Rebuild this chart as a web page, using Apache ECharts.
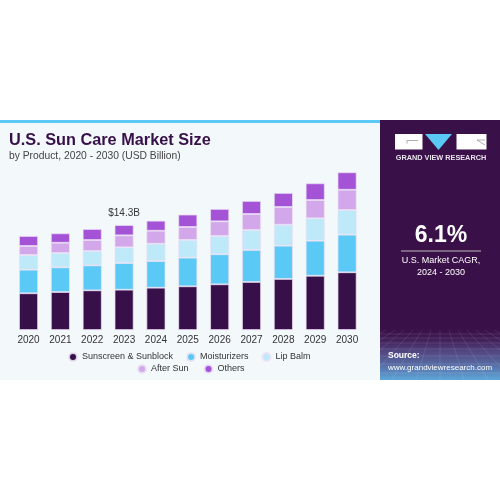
<!DOCTYPE html>
<html><head><meta charset="utf-8">
<script src="https://cdn.jsdelivr.net/npm/echarts@6/dist/echarts.min.js"></script>
<style>html,body{margin:0;padding:0;background:#fff}#c{width:500px;height:500px}</style>
</head><body><div id="c"></div>
<script>
var years = ['2020','2021','2022','2023','2024','2025','2026','2027','2028','2029','2030'];
var sunscreen = [5.00,5.17,5.40,5.49,5.76,5.95,6.22,6.54,6.95,7.39,7.86];
var moisturizers = [3.21,3.36,3.40,3.63,3.63,3.90,4.09,4.36,4.53,4.77,5.12];
var lipBalm = [2.00,1.95,1.95,2.14,2.36,2.41,2.49,2.72,2.86,3.05,3.36];
var afterSun = [1.23,1.40,1.50,1.63,1.77,1.77,2.00,2.18,2.41,2.49,2.76];
var others = [1.36,1.28,1.50,1.40,1.36,1.68,1.68,1.77,1.91,2.27,2.37];
var seriesNames = ['Sunscreen & Sunblock','Moisturizers','Lip Balm','After Sun','Others'];
var colors = ['#37104a','#5bc9f5','#bde9f9','#d3a8ea','#a452d6'];
var labelIndex = 3, labelText = '$14.3B';

var font = '"Liberation Sans", Arial, sans-serif';
var chart = echarts.init(document.getElementById('c'));
var data = [sunscreen, moisturizers, lipBalm, afterSun, others];
var series = data.map(function(arr, i){
  return {
    name: seriesNames[i], type: 'bar', stack: 'total', barWidth: 19,
    itemStyle: {color: colors[i], borderColor: 'rgba(235,225,245,0.9)', borderWidth: 0.8},
    data: arr.map(function(v, j){
      if (i === 4 && j === labelIndex) {
        return {value: v, label: {show: true, position: 'top', distance: 7, formatter: labelText,
          color: '#333', fontSize: 10, fontFamily: font}};
      }
      return v;
    })
  };
});
var legendText = {color: '#333', fontSize: 9, fontFamily: font};

// decorative perspective grid in the lower right panel
var deco = [];
[334, 338, 343, 349, 356, 364, 373].forEach(function(y){
  deco.push({type: 'line', z: -7, shape: {x1: 380, y1: y, x2: 500, y2: y}, style: {stroke: 'rgba(255,255,255,0.13)', lineWidth: 0.8}});
});
for (var k = -6; k <= 6; k++) {
  deco.push({type: 'line', z: -7, shape: {x1: 440 + k * 9, y1: 330, x2: 440 + k * 24, y2: 380}, style: {stroke: 'rgba(255,255,255,0.12)', lineWidth: 0.8}});
}

chart.setOption({
  animation: false,
  color: colors,
  grid: {left: 12.6, right: 137, top: 146.4, bottom: 170, containLabel: false},
  xAxis: {type: 'category', data: years, axisLine: {show: false}, axisTick: {show: false},
    axisLabel: {color: '#333', fontSize: 10, fontFamily: font, margin: 5}},
  yAxis: {type: 'value', min: 0, max: 25, show: false},
  legend: [
    {data: seriesNames.slice(0,3), top: 347, left: 63, icon: 'circle', itemWidth: 8, itemHeight: 8, itemGap: 13, textStyle: legendText},
    {data: seriesNames.slice(3), top: 359, left: 132, icon: 'circle', itemWidth: 8, itemHeight: 8, itemGap: 15, textStyle: legendText}
  ],
  graphic: [
    {type: 'rect', z: -10, shape: {x: 0, y: 120, width: 380, height: 260}, style: {fill: '#f3f8fb'}},
    {type: 'rect', z: -9, shape: {x: 0, y: 120, width: 380, height: 3}, style: {fill: '#5bc9f5'}},
    {type: 'rect', z: -9, shape: {x: 380, y: 120, width: 120, height: 260}, style: {fill: '#3a1048'}},
    {type: 'rect', z: -8, shape: {x: 380, y: 326, width: 120, height: 54}, style: {fill: {type: 'linear', x: 0, y: 0, x2: 0, y2: 1,
      colorStops: [{offset: 0, color: 'rgba(58,16,72,0)'}, {offset: 0.45, color: 'rgba(100,110,170,0.55)'}, {offset: 1, color: 'rgba(95,175,225,0.95)'}]}}}
  ].concat(deco).concat([
    {type: 'rect', shape: {x: 395, y: 134, width: 27.5, height: 15.5}, style: {fill: '#fff'}},
    {type: 'line', shape: {x1: 407, y1: 140.5, x2: 418, y2: 140.5}, style: {stroke: '#999', lineWidth: 0.8}},
    {type: 'line', shape: {x1: 407, y1: 140.5, x2: 407, y2: 143.5}, style: {stroke: '#999', lineWidth: 0.8}},
    {type: 'polygon', shape: {points: [[425, 134], [452, 134], [438.5, 150]]}, style: {fill: '#5bc9f5'}},
    {type: 'rect', shape: {x: 456.5, y: 134, width: 30, height: 15.5}, style: {fill: '#fff'}},
    {type: 'line', shape: {x1: 477, y1: 140, x2: 485, y2: 140}, style: {stroke: '#999', lineWidth: 0.8}},
    {type: 'line', shape: {x1: 477, y1: 140, x2: 485, y2: 145}, style: {stroke: '#999', lineWidth: 0.8}},
    {type: 'text', style: {x: 441, y: 157.5, text: 'GRAND VIEW RESEARCH', fill: '#e8e4ee', font: 'bold 7.3px ' + font, textAlign: 'center', textVerticalAlign: 'middle'}},
    {type: 'text', style: {x: 9, y: 141, text: 'U.S. Sun Care Market Size', fill: '#37104a', font: 'bold 16.3px ' + font, textVerticalAlign: 'middle'}},
    {type: 'text', style: {x: 9, y: 156, text: 'by Product, 2020 - 2030 (USD Billion)', fill: '#444', font: '10.3px ' + font, textVerticalAlign: 'middle'}},
    {type: 'text', style: {x: 441, y: 236, text: '6.1%', fill: '#fff', font: 'bold 23px ' + font, textAlign: 'center', textVerticalAlign: 'middle'}},
    {type: 'line', shape: {x1: 401, y1: 251, x2: 481, y2: 251}, style: {stroke: '#bbb', lineWidth: 1}},
    {type: 'text', style: {x: 441, y: 261, text: 'U.S. Market CAGR,', fill: '#fff', font: '9px ' + font, textAlign: 'center', textVerticalAlign: 'middle'}},
    {type: 'text', style: {x: 441, y: 273, text: '2024 - 2030', fill: '#fff', font: '9px ' + font, textAlign: 'center', textVerticalAlign: 'middle'}},
    {type: 'text', style: {x: 388, y: 356, text: 'Source:', fill: '#fff', font: 'bold 8.5px ' + font, textVerticalAlign: 'middle'}},
    {type: 'text', style: {x: 388, y: 368, text: 'www.grandviewresearch.com', fill: '#fff', font: '8px ' + font, textVerticalAlign: 'middle'}}
  ]),
  series: series
});
</script></body></html>
